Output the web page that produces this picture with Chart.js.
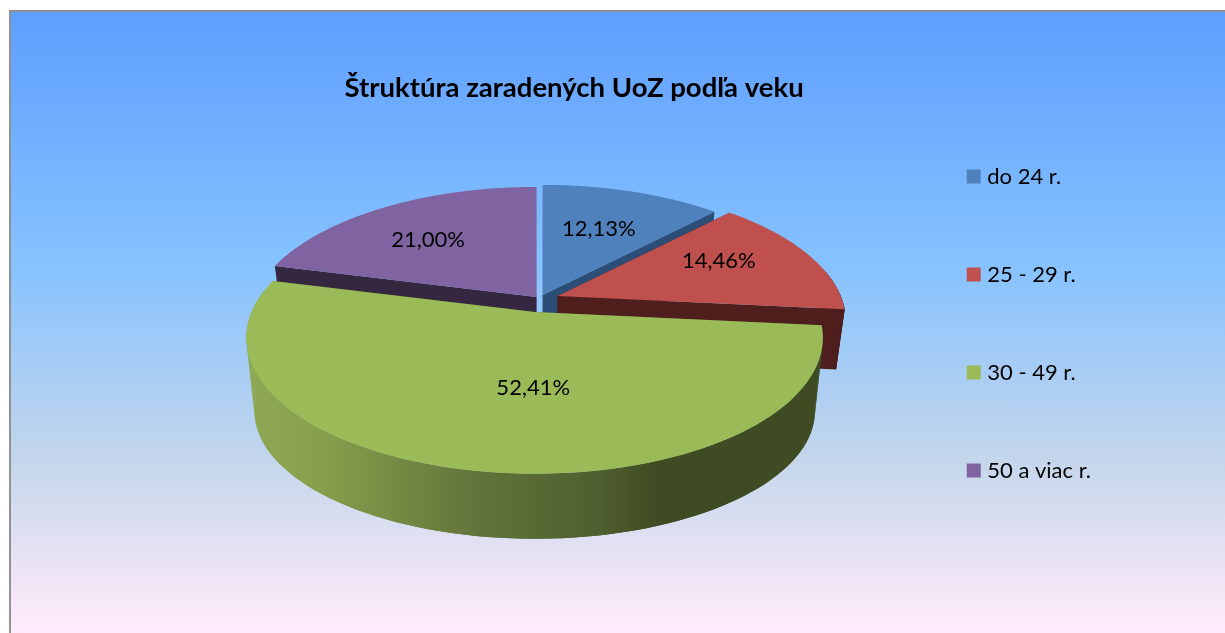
<!DOCTYPE html>
<html>
<head>
<meta charset="utf-8">
<title>Štruktúra zaradených UoZ podľa veku</title>
<script src="https://cdn.jsdelivr.net/npm/chart.js@4"></script>
<style>
    body { margin: 0; background: #fff; overflow: hidden; }
    #panel {
        position: absolute; left: 9px; top: 10px; width: 1240px; height: 640px;
        border: 2px solid #919191;
        background: linear-gradient(#5e9eff 0%, #85c2ff 39%, #c4d6eb 70%, #ffebfa 96%);
    }
    canvas { position: absolute; left: 0; top: 0; }
</style>
</head>
<body>
<div id="panel"></div>
<canvas id="ageChart" width="1225" height="633"></canvas>
<script>
// Chart data
const chartTitle = 'Štruktúra zaradených UoZ podľa veku';
const categories = ['do 24 r.', '25 - 29 r.', '30 - 49 r.', '50 a viac r.'];
const shares = [12.13, 14.46, 52.41, 21.00];

// Slice colours
const topColors = ['#4f81bd', '#c0504d', '#9bbb59', '#8064a2'];
const wallColors = ['#2c4d75', '#4f1f1e', '#55682f', '#35273f'];

// Fake 3D settings
const tiltY = 0.463;       // squash of the pie
const perspective = 0.19;  // front of the pie is bigger than the back
const wallHeights = [60, 60, 75.2, 60];
const wallGrow = [0.03, 0.03, -0.06, 0.03];
const baseShrink = 0.972;
const pieNudge = [-36.5, -36];
const explode = [[5, -9], [20, -8], [-3, 8], [-1, -7]];
const labelNudge = [[-1, 0], [8, -9], [32, -11], [-13, 0]];
const drawOrder = [0, 3, 1, 2];

function project(el, i, theta, rho) {
    const u = rho * Math.sin(theta);
    const v = -rho * Math.cos(theta);
    const s = 1 / (1 - perspective * v);
    return {
        x: el.x + pieNudge[0] + explode[i][0] + el.outerRadius * u * s,
        y: el.y + pieNudge[1] + explode[i][1] + el.outerRadius * tiltY * v * s
    };
}

function toBase(el, i, p) {
    const ox = el.x + pieNudge[0];
    const oy = el.y + pieNudge[1];
    return {
        x: ox + (p.x - ox) * baseShrink,
        y: p.y + wallHeights[i] + wallGrow[i] * (p.y - oy)
    };
}

function fillPoly(ctx, points, color) {
    ctx.beginPath();
    points.forEach((p, n) => n ? ctx.lineTo(p.x, p.y) : ctx.moveTo(p.x, p.y));
    ctx.closePath();
    ctx.fillStyle = color;
    ctx.fill();
}

// Draws the arcs of the pie controller as a 3D pie
const pie3d = {
    id: 'pie3d',
    beforeDatasetsDraw(chart) {
        const ctx = chart.ctx;
        const arcs = chart.getDatasetMeta(0).data;

        drawOrder.forEach(i => {
            const el = arcs[i];
            const start = el.startAngle + Math.PI / 2;
            const end = el.endAngle + Math.PI / 2;
            const rim = [];
            const frontRim = [];
            for (let n = 0; n <= 90; n++) {
                const theta = start + (end - start) * n / 90;
                const p = project(el, i, theta, 1);
                rim.push(p);
                // back of the outer wall is never seen
                if (Math.cos(theta) < 0.2) frontRim.push(p);
            }
            const apex = project(el, i, 0, 0);
            const baseApex = toBase(el, i, apex);
            const first = rim[0];
            const last = rim[rim.length - 1];
            const frontBase = frontRim.map(p => toBase(el, i, p));

            fillPoly(ctx, [apex, first, toBase(el, i, first), baseApex], wallColors[i]);
            fillPoly(ctx, [apex, last, toBase(el, i, last), baseApex], wallColors[i]);

            let wallFill = wallColors[i];
            if (i === 2) {
                wallFill = ctx.createLinearGradient(250, 0, 825, 0);
                wallFill.addColorStop(0, '#8ea853');
                wallFill.addColorStop(0.12, '#86a04c');
                wallFill.addColorStop(0.4, '#61733a');
                wallFill.addColorStop(0.61, '#4f5e2e');
                wallFill.addColorStop(0.71, '#3f4b23');
                wallFill.addColorStop(1, '#3f4b23');
            }
            // Band first, then quads to fill the notch where it folds at the sides
            if (frontRim.length > 1) {
                fillPoly(ctx, frontRim.concat(frontBase.slice().reverse()), wallFill);
                for (let n = 0; n < frontRim.length - 1; n++) {
                    fillPoly(ctx, [frontRim[n], frontRim[n + 1], frontBase[n + 1], frontBase[n]], wallFill);
                }
            }
            fillPoly(ctx, [apex].concat(rim), topColors[i]);
        });

        // Percent labels
        ctx.font = '22px Lato';
        ctx.fillStyle = '#000';
        ctx.textAlign = 'center';
        ctx.textBaseline = 'middle';
        arcs.forEach((el, i) => {
            const mid = (el.startAngle + el.endAngle) / 2 + Math.PI / 2;
            const p = project(el, i, mid, 0.6);
            const text = shares[i].toFixed(2).replace('.', ',') + '%';
            ctx.fillText(text, p.x + labelNudge[i][0], p.y + labelNudge[i][1]);
        });
        return false;
    }
};

new Chart(document.getElementById('ageChart'), {
    type: 'pie',
    data: {
        labels: categories,
        datasets: [{
            data: shares,
            backgroundColor: topColors,
            borderWidth: 0,
            radius: 283
        }]
    },
    options: {
        responsive: false,
        animation: false,
        layout: { padding: { left: 253, right: 124, top: 71.5, bottom: 57.5 } },
        plugins: {
            title: {
                display: true,
                text: chartTitle,
                fullSize: false,
                color: '#000',
                padding: 0,
                font: { family: 'Lato', size: 27.5, weight: 'bold' }
            },
            legend: {
                position: 'right',
                labels: {
                    color: '#000',
                    font: { family: 'Lato', size: 22, lineHeight: 1 },
                    usePointStyle: true,
                    pointStyle: 'rect',
                    boxWidth: 5,    // square is sized by boxHeight, this only sets the text gap
                    boxHeight: 14,
                    padding: 76
                }
            },
            tooltip: { enabled: false }
        }
    },
    plugins: [pie3d]
});
</script>
</body>
</html>
